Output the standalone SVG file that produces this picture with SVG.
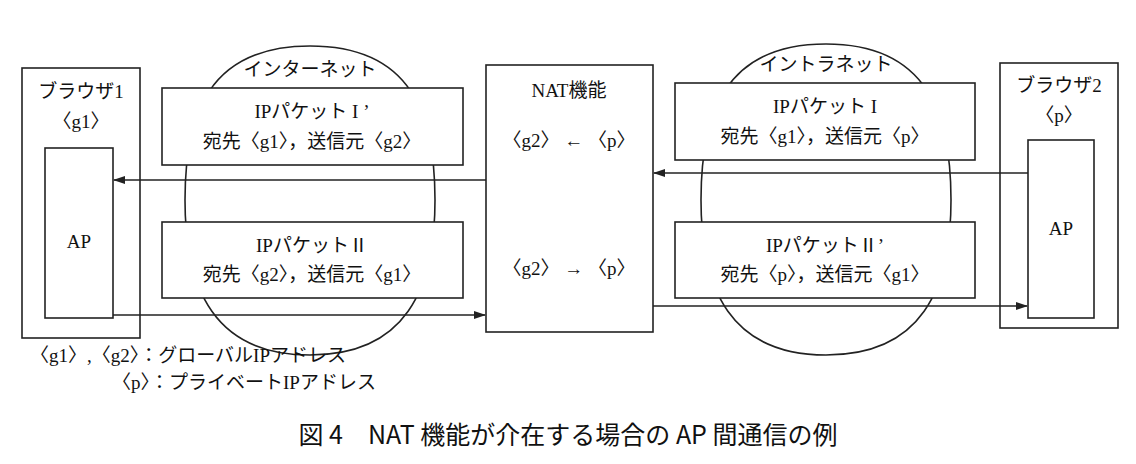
<svg xmlns="http://www.w3.org/2000/svg" width="1136" height="464" viewBox="0 0 1136 464">
<defs>
<style>
.b{fill:#fff;stroke:#222;stroke-width:1.6}
.e{fill:none;stroke:#222;stroke-width:1.6}
.t{font-family:"Liberation Serif","Noto Sans CJK JP",serif;font-size:19px;fill:#111;text-anchor:middle}
.l{stroke:#222;stroke-width:1.6;fill:none;marker-end:url(#a)}
</style>
<marker id="a" markerWidth="12" markerHeight="8" refX="11" refY="4" orient="auto" markerUnits="userSpaceOnUse"><path d="M0,0 L12,4 L0,8 z" fill="#222"/></marker>
</defs>
<rect width="1136" height="464" fill="#fff"/>
<g id="internet"><path class="e" d="M310,46 C412,46 435,115 435,200 C435,290 405,355 310,355 C215,355 185,290 185,200 C185,115 208,46 310,46 Z"/><text class="t" x="310" y="76">インターネット</text></g>
<g id="intranet"><path class="e" d="M826,44 C928,44 951,115 951,200 C951,290 921,355 826,355 C731,355 701,290 701,200 C701,115 724,44 826,44 Z"/><text class="t" x="826" y="71">イントラネット</text></g>
<g id="browser1"><rect class="b" x="22" y="68" width="118" height="270"/><text class="t" x="81" y="98">ブラウザ1</text><text class="t" x="81" y="128">〈g1〉</text>
<rect class="b" x="45" y="148" width="68" height="170"/><text class="t" x="79" y="248">AP</text></g>
<g id="browser2"><rect class="b" x="1000" y="63" width="118" height="265"/><text class="t" x="1059" y="92">ブラウザ2</text><text class="t" x="1059" y="122">〈p〉</text>
<rect class="b" x="1028" y="140" width="66" height="178"/><text class="t" x="1061" y="235">AP</text></g>
<g id="nat"><rect class="b" x="486" y="65" width="167" height="267"/><text class="t" x="569" y="97">NAT機能</text><text class="t" x="569" y="147">〈g2〉 ← 〈p〉</text><text class="t" x="569" y="275">〈g2〉 → 〈p〉</text></g>
<g id="pkt1"><rect class="b" x="162" y="88" width="301" height="77"/><text class="t" x="312" y="118">IPパケット I ’</text><text class="t" x="312" y="148">宛先〈g1〉，送信元〈g2〉</text></g>
<g id="pkt2"><rect class="b" x="162" y="222" width="301" height="76"/><text class="t" x="312" y="252">IPパケットⅡ</text><text class="t" x="312" y="281">宛先〈g2〉，送信元〈g1〉</text></g>
<g id="pkt3"><rect class="b" x="675" y="83" width="300" height="77"/><text class="t" x="825" y="113">IPパケット I</text><text class="t" x="825" y="143">宛先〈g1〉，送信元〈p〉</text></g>
<g id="pkt4"><rect class="b" x="675" y="222" width="300" height="76"/><text class="t" x="825" y="252">IPパケットⅡ’</text><text class="t" x="825" y="281">宛先〈p〉，送信元〈g1〉</text></g>
<g id="connectors">
<line class="l" x1="486" y1="180" x2="114" y2="180"/>
<line class="l" x1="1028" y1="173" x2="654" y2="173"/>
<line class="l" x1="113" y1="315" x2="485" y2="315"/>
<line class="l" x1="653" y1="306" x2="1027" y2="306"/>
</g>
<text class="t" x="30" y="362" style="text-anchor:start">〈g1〉,〈g2〉：グローバルIPアドレス</text>
<text class="t" x="112" y="389" style="text-anchor:start">〈p〉：プライベートIPアドレス</text>
<text x="568" y="444" style="font-family:'Noto Sans CJK JP',sans-serif;font-size:25px;text-anchor:middle;fill:#111">図 4　NAT 機能が介在する場合の AP 間通信の例</text>
</svg>
